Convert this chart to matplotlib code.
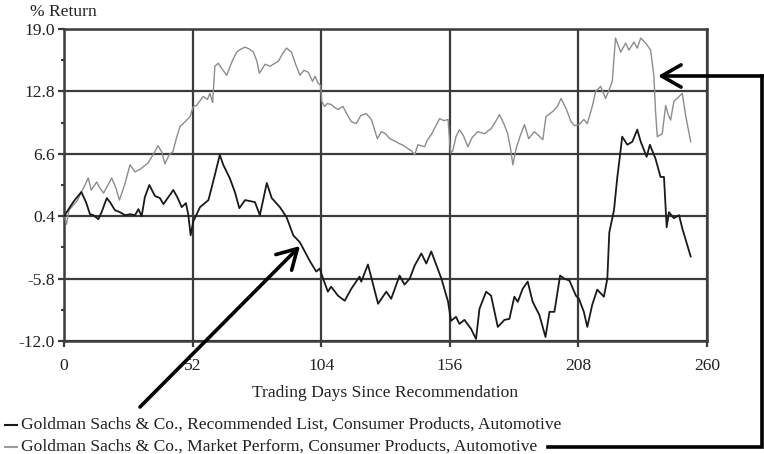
import matplotlib
matplotlib.use("Agg")
import matplotlib.pyplot as plt
from matplotlib.lines import Line2D
from matplotlib.patches import FancyArrowPatch, ArrowStyle

# Cumulative % return by trading day after the recommendation
rec_days = [0, 2.4, 4, 7, 8.9, 10.5, 11.9, 13.9, 15.2, 17.3, 18.6, 20.6, 22.6, 24.7, 26.7,
            28.7, 30.1, 31.4, 32.7, 34.5, 36.8, 38.8, 40.2, 42.2, 44.2, 45.8, 47.6, 49.3,
            50.3, 51.2, 52.3, 55, 58.4, 61, 63, 64.4, 67, 69.1, 70.9, 73.2, 77.2, 79.2, 82,
            84, 87.3, 90, 92.7, 95.4, 99.5, 102, 103.4, 104.9, 106.7, 108, 110.8, 113.5,
            116.2, 119.5, 120.2, 122.9, 125, 127, 130.3, 132.3, 135.7, 137.7, 139.8, 141.8,
            144.5, 146.5, 148.5, 152.6, 155.3, 156.5, 158.5, 159.9, 161.9, 164.6, 166.6,
            168, 170.7, 172.7, 175.4, 178.1, 180.1, 182.1, 183.5, 185.5, 187.5, 189.5,
            192.2, 194.7, 196.3, 198.3, 200.6, 202.3, 204.4, 207, 208.2, 210.2, 211.6,
            213.6, 215.6, 218.3, 219.7, 220.5, 222.4, 223.7, 225.1, 225.7, 227.8, 229.8,
            231.8, 233.2, 235.6, 236.9, 239.2, 241.2, 242.6, 243.7, 244.6, 246.6, 248.7,
            250, 253.4]
rec_vals = [0.4, 1.3, 1.9, 2.8, 1.8, 0.6, 0.5, 0.1, 0.8, 2.2, 1.8, 1.0, 0.8, 0.5, 0.6,
            0.5, 1.1, 0.4, 2.3, 3.5, 2.4, 2.2, 1.6, 2.3, 3.0, 2.3, 1.3, 1.7,
            0.5, -1.5, -0.1, 1.3, 2.0, 4.5, 6.5, 5.5, 4.2, 2.8, 1.2, 2.0, 1.8, 0.5, 3.7,
            2.2, 1.3, 0.3, -1.5, -2.2, -4.1, -5.1, -4.8, -5.9, -7.1, -6.6, -7.5, -8.0,
            -6.8, -5.6, -6.1, -4.4, -6.4, -8.3, -7.1, -7.8, -5.5, -6.4, -5.8, -4.5,
            -3.3, -4.3, -3.1, -5.8, -8.1, -10.0, -9.6, -10.3, -9.9, -10.8, -11.8,
            -8.8, -7.1, -7.5, -10.6, -9.9, -9.8, -7.6, -8.1, -6.8, -6.1, -8.1,
            -9.4, -11.6, -9.1, -9.1, -5.5, -5.8, -6.0, -7.5, -7.8, -9.1, -10.6,
            -8.4, -6.9, -7.6, -5.8, -1.2, 1.0, 4.2, 7.0, 8.3, 7.5, 7.8,
            9.0, 7.8, 6.3, 7.5, 6.1, 4.3, 4.3, -0.7, 0.8, 0.2, 0.5,
            -0.8, -3.6]

mp_days = [0, 1, 2, 3.8, 5.5, 7, 8.5, 9.8, 11, 13.2, 14.5, 16, 17.8, 19.3, 21, 22.4, 24.5,
           26.7, 28.7, 31, 34, 36, 38, 39.5, 40.8, 42.5, 44, 45.5, 46.9, 49, 51, 52.3,
           53.6, 56.3, 58, 59, 60.1, 61, 62.4, 64, 65.8, 68, 69.8, 71.5, 73.2, 75, 76.6,
           78, 79, 81.3, 83.3, 86.7, 88.5, 90, 92, 93.5, 95.4, 97, 98.8, 100.5, 101.5,
           102.8, 103.8, 104.2, 105.4, 106.5, 108, 109.5, 110.8, 112.8, 114.5, 116.2,
           118.2, 120, 122.2, 124.3, 126.7, 128.3, 130, 131.7, 133.5, 135.7, 137.5, 139.1,
           140.5, 141.8, 143.1, 145.8, 147, 148.5, 150, 151.9, 153.5, 155.3, 156.3, 157.2,
           158.5, 159.9, 161.5, 163.3, 165, 167.3, 170, 172.7, 174.5, 176.1, 178, 179.4,
           180.5, 181.5, 182.8, 184.5, 186.2, 187.9, 190.2, 192, 193.6, 194.9, 197.6,
           199.5, 201, 203, 205, 206.5, 208.2, 210.2, 211.6, 213.5, 215, 217, 219, 220.5,
           221.7, 223, 225.1, 227.1, 228.4, 230.5, 231.8, 233.2, 235.2, 237.2, 238.5,
           239.2, 239.9, 241.9, 243.3, 244.3, 245.3, 246.6, 248.7, 250, 251.3, 253.4]
mp_vals = [0.6, -0.4, 1.0, 1.5, 2.0, 2.8, 3.5, 4.2, 3.0, 3.8, 3.2, 2.7, 3.5, 4.2, 3.2, 2.0, 3.5,
           5.5, 4.8, 5.1, 5.7, 6.5, 7.4, 6.8, 5.6, 6.5, 6.8, 8.2, 9.3, 9.8, 10.3, 11.3,
           11.4, 12.3, 12.0, 12.6, 11.7, 15.3, 15.6, 15.0, 14.4, 15.8, 16.7, 17.0, 17.2, 17.0, 16.7,
           15.8, 14.6, 15.5, 15.3, 15.8, 16.6, 17.1, 16.7, 15.6, 14.4, 14.9, 14.7, 13.8, 14.3,
           13.6, 13.4, 11.8, 11.3, 11.6, 11.5, 11.2, 11.0, 11.3, 10.5, 9.8,
           9.6, 10.4, 10.6, 10.0, 8.1, 8.8, 8.6, 8.1, 7.9, 7.6, 7.4, 7.1,
           6.9, 6.5, 7.5, 7.3, 8.0, 8.5, 9.2, 10.1, 9.9, 10.0, 6.7, 6.9,
           8.3, 9.0, 8.4, 7.3, 8.2, 8.8, 8.6, 9.1, 9.8, 10.5, 9.5, 8.6,
           7.2, 5.5, 7.1, 8.4, 9.5, 8.1, 8.8, 8.4, 8.0, 10.3, 10.8,
           11.3, 12.1, 11.1, 9.8, 9.4, 9.5, 10.0, 9.6, 11.2, 12.8, 13.3, 12.1, 13.0,
           13.8, 18.1, 16.7, 17.6, 16.9, 17.7, 17.1, 18.1, 17.6, 16.9, 14.4,
           10.8, 8.3, 8.6, 11.4, 10.5, 9.95, 11.8, 12.3, 12.6, 10.5, 7.8]

x_ticks = [0, 52, 104, 156, 208, 260]
y_ticks = [-12.0, -5.8, 0.4, 6.6, 12.8, 19.0]
y_minor = [-8.9, -2.7, 3.5, 9.7, 15.9]
series_names = ["Goldman Sachs & Co., Recommended List, Consumer Products, Automotive",
                "Goldman Sachs & Co., Market Perform, Consumer Products, Automotive"]

W, H = 764, 454
plt.rcParams["font.family"] = ["Liberation Serif", "DejaVu Serif"]
FS = 12.6
TXT = "#222222"
GRID = "#3c3c3c"

fig = plt.figure(figsize=(W / 100, H / 100), dpi=100)
ax = fig.add_axes([64 / W, 1 - 341 / H, (707 - 64) / W, (341 - 29) / H])

ax.plot(mp_days, mp_vals, color="#8c8c8c", lw=1.0, zorder=3)
ax.plot(rec_days, rec_vals, color="#1a1a1a", lw=1.3, zorder=4)

ax.set_xlim(0, 260)
ax.set_ylim(-12, 19)
ax.set_xticks(x_ticks)
ax.set_xticklabels([str(t) for t in x_ticks], fontsize=FS, color=TXT)
ax.set_yticks(y_ticks)
ax.set_yticklabels([f"{t:.1f}" for t in y_ticks], fontsize=FS, color=TXT)
ax.set_yticks(y_minor, minor=True)
ax.tick_params(axis="both", which="major", length=4.5, width=1.6, color=GRID)
ax.tick_params(axis="x", which="major", pad=8)
ax.tick_params(axis="y", which="major", pad=2)
ax.tick_params(axis="y", which="minor", length=2, width=1.5, color=GRID)
ax.grid(True, which="major", color=GRID, lw=1.6)
for s in ax.spines.values():
    s.set_color(GRID)
    s.set_linewidth(1.8)

ax.set_xlabel("Trading Days Since Recommendation", fontsize=FS, color=TXT, labelpad=8)
fig.text(30 / W, 1 - 12 / H, "% Return", fontsize=FS, color=TXT, va="center", ha="left")


def fpt(px, py):
    """Pixel position (from the top-left corner) to figure fraction."""
    return (px / W, 1 - py / H)


# Legend rows below the axis title
legend_rows = [(425, "#1a1a1a"), (447, "#9a9a9a")]
for (py, col), name in zip(legend_rows, series_names):
    fig.add_artist(Line2D([fpt(5, py)[0], fpt(17, py)[0]], [fpt(5, py)[1]] * 2,
                          transform=fig.transFigure, color=col, lw=1.5))
    fig.text(21 / W, 1 - py / H, name, fontsize=FS, color=TXT, va="center", ha="left")

# Callout arrows
style = ArrowStyle("->", head_length=0.7, head_width=0.4)
fig.add_artist(FancyArrowPatch(fpt(140, 407), fpt(300, 246), transform=fig.transFigure,
                               arrowstyle=style, mutation_scale=20, color="black", lw=2.6,
                               shrinkA=0, shrinkB=0))
fig.add_artist(Line2D([fpt(548, 447)[0], fpt(762, 447)[0], fpt(762, 76)[0]],
                      [fpt(548, 447)[1], fpt(762, 447)[1], fpt(762, 76)[1]],
                      transform=fig.transFigure, color="black", lw=2.6,
                      solid_joinstyle="miter"))
fig.add_artist(FancyArrowPatch(fpt(763, 76), fpt(658, 76), transform=fig.transFigure,
                               arrowstyle=style, mutation_scale=20, color="black", lw=2.6,
                               shrinkA=0, shrinkB=0))

fig.savefig("out.png", dpi=100)
